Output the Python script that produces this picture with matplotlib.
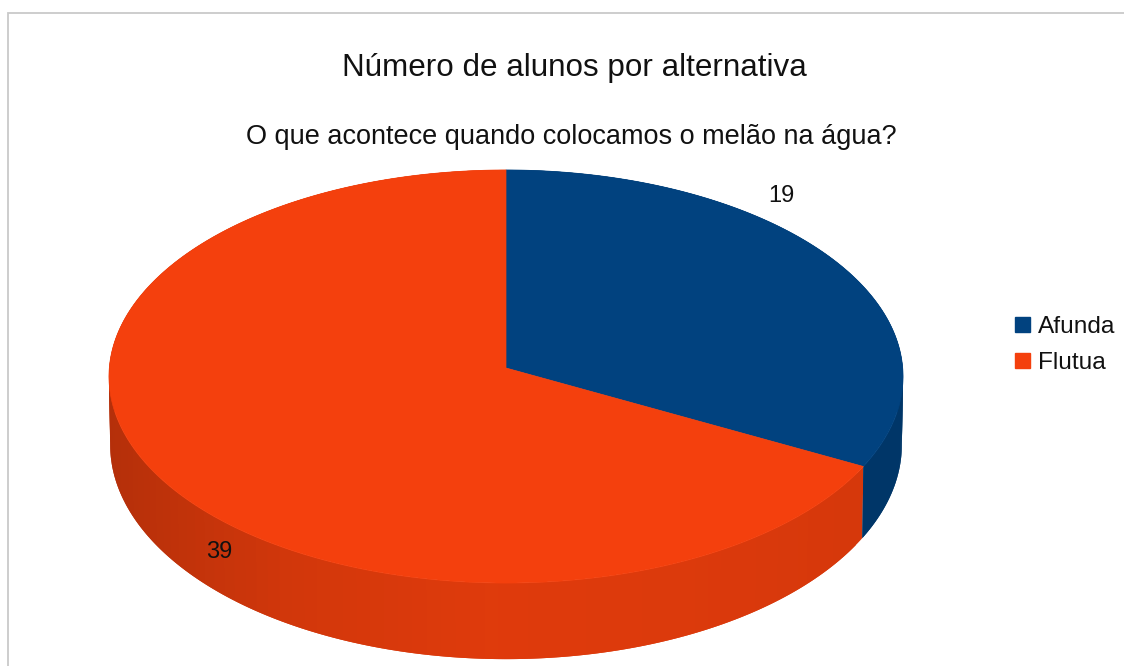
import numpy as np
import matplotlib.pyplot as plt
from matplotlib.patches import Polygon, Patch
from matplotlib.colors import to_rgb

plt.rcParams['font.family'] = ['Liberation Sans', 'DejaVu Sans']

title = "Número de alunos por alternativa"
subtitle = "O que acontece quando colocamos o melão na água?"
categories = ["Afunda", "Flutua"]
values = [19, 39]
top_colors = ["#01427F", "#F4400D"]

# pie geometry on the canvas, in pixels
cx, cy = 506, 368
radius_x, radius_y = 396.7, 206.2
persp = 0.0412
depth = 67.9
bottom_sy = 1.038
bottom_sx = 0.997


def rim(theta, bottom=False):
    # theta runs clockwise from twelve o'clock, tilted disc with a bit of perspective
    u, v = np.sin(theta), np.cos(theta)
    x = radius_x * u / (1 + persp * v)
    y = -radius_y * v / (1 + persp * v)
    if bottom:
        return cx + x * bottom_sx, cy + y * bottom_sy + depth
    return cx + x, cy + y


def wall_color(idx, x):
    # the side gets lighter towards the front
    if idx == 0:
        return np.array([0, 54, 104]) / 255
    shade = np.interp(x, [110, 200, 300, 500, 700, 865],
                      [0.74, 0.80, 0.86, 0.915, 0.90, 0.875])
    return np.array(to_rgb(top_colors[idx])) * shade


fig = plt.figure(figsize=(11.24, 6.66), dpi=100)
ax = fig.add_axes([0, 0, 1, 1])
ax.set_xlim(0, 1124)
ax.set_ylim(666, 0)
ax.axis('off')

# chart frame, open on the right and at the bottom
ax.plot([8, 8, 1124], [666, 13, 13], color='#c9c9c9', lw=1.3, solid_joinstyle='miter')

shares = np.array(values) / sum(values) * 2 * np.pi
edges = np.concatenate([[0], np.cumsum(shares)])

# side wall first, the top surface then covers whatever is behind it
# each strip runs past the next one so no seams show between them
for i in range(len(values)):
    steps = np.linspace(edges[i], edges[i + 1], 120)
    for k in range(len(steps) - 1):
        a = steps[k]
        b = steps[min(k + 2, len(steps) - 1)]
        t = np.linspace(a, b, 6)
        xs, ys = rim(t)
        xs2, ys2 = rim(t, True)
        col = wall_color(i, xs[0])
        pts = np.vstack([np.column_stack([xs, ys]), np.column_stack([xs2, ys2])[::-1]])
        ax.add_patch(Polygon(pts, facecolor=col, edgecolor='none', zorder=2 + k * 1e-4))

# top surface
for i in range(len(values)):
    t = np.linspace(edges[i], edges[i + 1], 300)
    xs, ys = rim(t)
    pts = np.vstack([[cx, cy], np.column_stack([xs, ys])])
    ax.add_patch(Polygon(pts, facecolor=top_colors[i], edgecolor=top_colors[i], lw=0.5, zorder=3))

ax.text(574, 68, title, fontsize=22.6, ha='center', va='center', color='#111111')
ax.text(571.5, 137, subtitle, fontsize=19.5, ha='center', va='center', color='#111111')

ax.text(781, 196, str(values[0]), fontsize=17, ha='center', va='center', color='#111111', zorder=4)
ax.text(219, 552, str(values[1]), fontsize=17, ha='center', va='center', color='#111111', zorder=4)

handles = [Patch(facecolor=c, edgecolor=c, label=n) for c, n in zip(top_colors, categories)]
ax.legend(handles=handles, loc='upper left', bbox_to_anchor=(1015 / 1124, 1 - 316 / 666),
          frameon=False, fontsize=17.6, handlelength=0.6, handleheight=0.6,
          handletextpad=0.33, labelspacing=0.58, borderpad=0, borderaxespad=0,
          labelcolor='#111111')

fig.savefig('out.png', dpi=100)
